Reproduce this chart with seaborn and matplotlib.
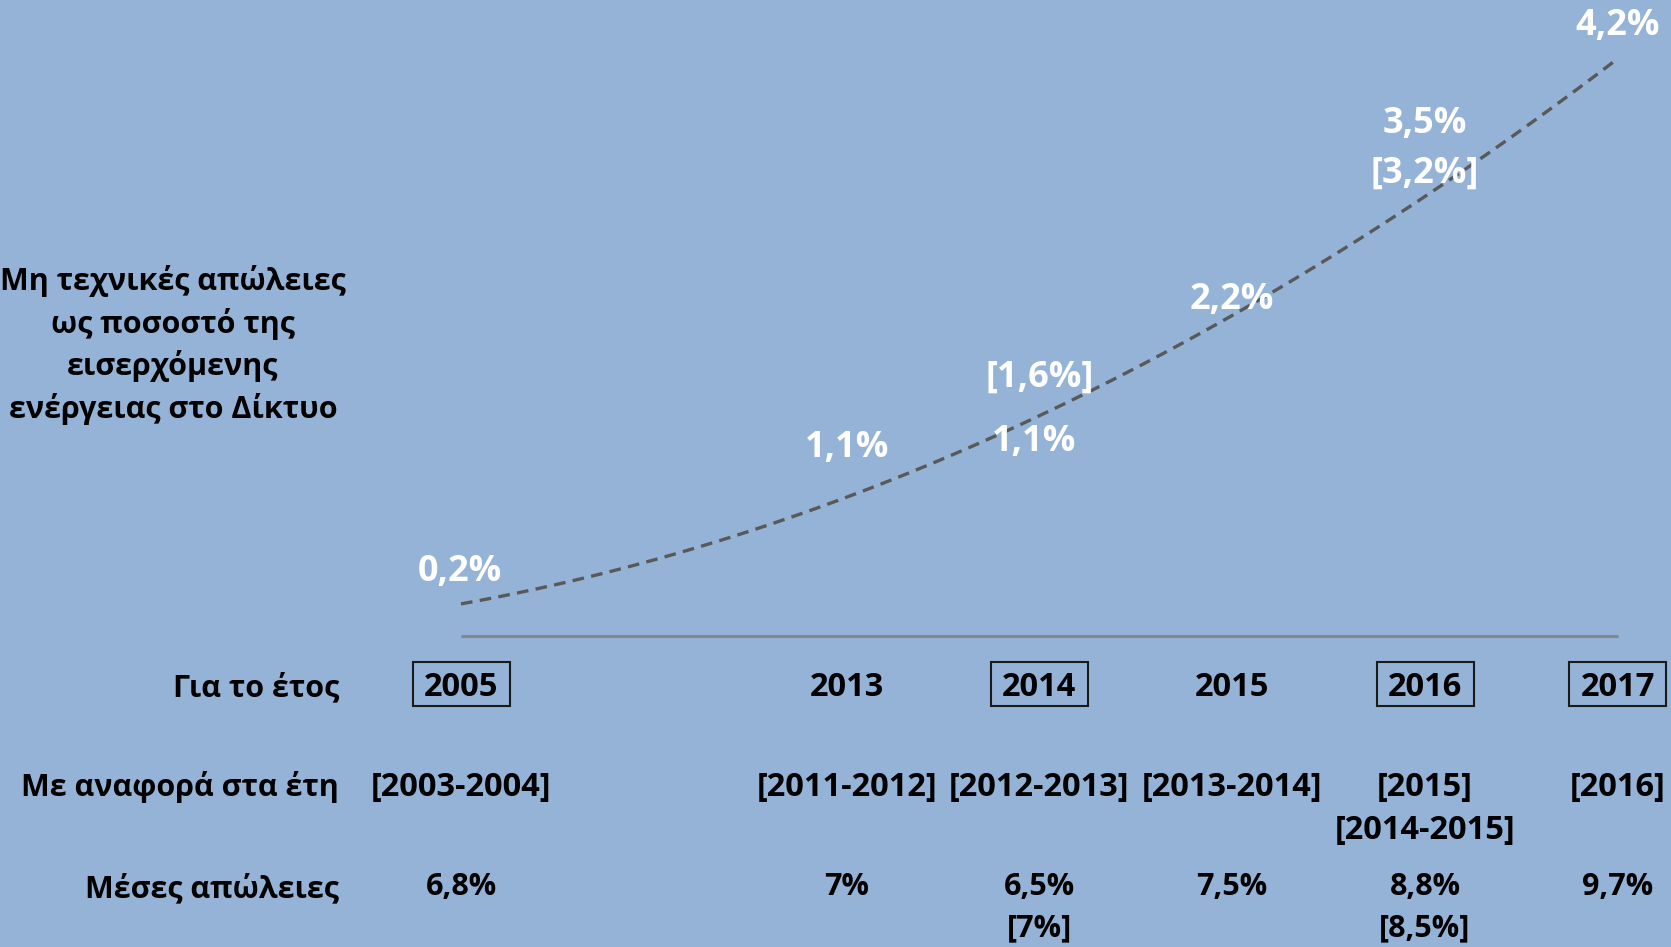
import numpy as np
import matplotlib.pyplot as plt
import matplotlib.transforms as mtransforms
from matplotlib.patches import Rectangle
import seaborn as sns

# 数据
years = ["2005", "2013", "2014", "2015", "2016", "2017"]
year_pos = [0, 2, 3, 4, 5, 6]
boxed = [True, False, True, False, True, True]
ref_years = ["[2003-2004]", "[2011-2012]", "[2012-2013]", "[2013-2014]", "[2015]\n[2014-2015]", "[2016]"]
mean_losses = ["6,8%", "7%", "6,5%\n[7%]", "7,5%", "8,8%\n[8,5%]", "9,7%"]

# 趋势线数据 (非技术损失 %)
trend_x = [0, 2, 3, 4, 5, 6]
trend_y = [0.2, 1.1, 1.6, 2.2, 3.2, 4.2]

# 数值标签
value_labels = ["0,2%", "1,1%", "[1,6%]", "1,1%", "2,2%", "3,5%", "[3,2%]", "4,2%"]
value_x = [0, 2, 3, 3, 4, 5, 5, 6]
value_y = [0.2, 1.1, 1.6, 1.1, 2.2, 3.5, 3.2, 4.2]
label_dx = [-1, 0, 0, -5, 0, 0, 0, 0]
label_dy = [36, 36, 37, 42, 32, 28, 20, 29]

row_labels = ["Για το έτος", "Με αναφορά στα έτη", "Μέσες απώλειες"]
ylabel_text = "Μη τεχνικές απώλειες\nως ποσοστό της\nεισερχόμενης\nενέργειας στο Δίκτυο"

sns.set_style('white')
plt.rcParams['font.family'] = ['Open Sans', 'DejaVu Sans']

W, H = 1671, 947
BG = '#95B3D7'
fig = plt.figure(figsize=(W / 100, H / 100), dpi=100)
fig.patch.set_facecolor(BG)
ax = fig.add_axes([0, 0, 1, 1])

# 像素 <-> 数据坐标
x0_px, x_step = 461, 192.8
base_px, y_step = 636, 138.3
ax.set_xlim(-x0_px / x_step, 6 + (W - x0_px - 6 * x_step) / x_step)
ax.set_ylim(-(H - base_px) / y_step, base_px / y_step)
ax.axis('off')

# 基线
ax.hlines(0, 0, 6, color='#7f8790', lw=2.2)

# 二次趋势线
sns.regplot(x=trend_x, y=trend_y, order=2, ci=None, scatter=False, ax=ax,
            line_kws=dict(color='#595959', lw=2.4, ls=(0, (3.5, 2.2))))

fs = 22
wt = 'bold'
for txt, x, y, dx, dy in zip(value_labels, value_x, value_y, label_dx, label_dy):
    ax.annotate(txt, (x, y), xytext=(dx, dy), textcoords='offset pixels',
                ha='center', va='center', color='white', fontsize=26, fontweight=wt)

# 表格行
tr = mtransforms.blended_transform_factory(ax.transData, fig.transFigure)
row_y = [688, 787, 889]
for lab, py in zip(row_labels, row_y):
    fig.text(339 / W, 1 - py / H, lab, ha='right', va='center', fontsize=fs,
             fontweight=wt, color='black')

box_w, box_h = 97, 44
for yr, x, b in zip(years, year_pos, boxed):
    ax.text(x, 1 - row_y[0] / H, yr, transform=tr, ha='center', va='center',
            fontsize=23.5, fontweight=wt, color='black')
    if b:
        ax.add_patch(Rectangle((x - box_w / 2 / x_step, 1 - (row_y[0] - 4 + box_h / 2) / H),
                               box_w / x_step, box_h / H, transform=tr,
                               fc='none', ec='#1a1a1a', lw=1.5))

for txt, x in zip(ref_years, year_pos):
    ax.text(x, 1 - (row_y[1] - 16) / H, txt, transform=tr, ha='center', va='top',
            fontsize=23.5, fontweight=wt, color='black', linespacing=1.4)

for txt, x in zip(mean_losses, year_pos):
    ax.text(x, 1 - (row_y[2] - 17) / H, txt, transform=tr, ha='center', va='top',
            fontsize=fs, fontweight=wt, color='black', linespacing=1.5)

fig.text(173 / W, 1 - 345 / H, ylabel_text, ha='center', va='center', fontsize=fs,
         fontweight=wt, color='black', linespacing=1.42)

plt.savefig('out.png', dpi=100, facecolor=fig.get_facecolor())
plt.close(fig)
